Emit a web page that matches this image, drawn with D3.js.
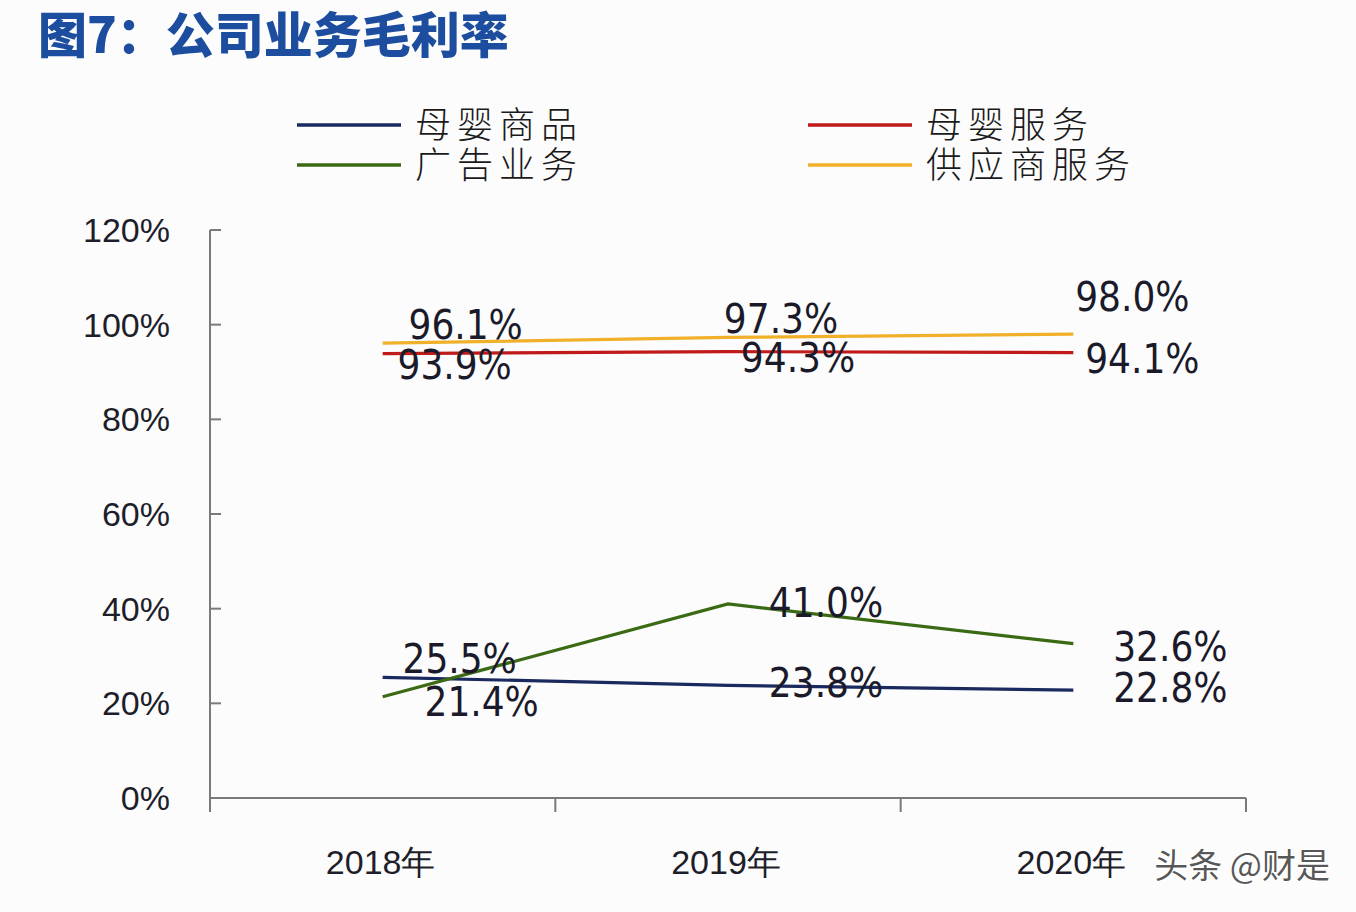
<!DOCTYPE html>
<html><head><meta charset="utf-8">
<script src="https://cdn.jsdelivr.net/npm/d3@7"></script>
<style>
html,body{margin:0;padding:0;background:#fcfcfc;}
svg{display:block;}
</style></head>
<body>
<svg id="c" width="1356" height="912"></svg>
<script>
// ---- data ----
const categories = ["2018年", "2019年", "2020年"];
const seriesNames = ["母婴商品", "母婴服务", "广告业务", "供应商服务"];
const muyingShangpin = [25.5, 23.8, 22.8];
const muyingFuwu = [93.9, 94.3, 94.1];
const guanggao = [21.4, 41.0, 32.6];
const gongyingshang = [96.1, 97.3, 98.0];
const yTicks = [0, 20, 40, 60, 80, 100, 120];
const yTickLabels = ["0%", "20%", "40%", "60%", "80%", "100%", "120%"];
const title = "图7：公司业务毛利率";

// ---- layout / style (not data) ----
const colors = {"母婴商品":"#1b2a5e","母婴服务":"#c01a1a","广告业务":"#3b6a14","供应商服务":"#f0b02a"};
const seriesValues = {"母婴商品":muyingShangpin,"母婴服务":muyingFuwu,"广告业务":guanggao,"供应商服务":gongyingshang};
const labelOffsets = {
  "母婴商品":[[77,-4],[98,12],[97,12]],
  "母婴服务":[[72,25],[70,20],[69,20]],
  "广告业务":[[99,19],[98,13],[97,17]],
  "供应商服务":[[83,-4],[53,-4],[59,-23]]
};

const svg = d3.select("#c");
const x = d3.scaleBand().domain(categories).range([210, 1246]).padding(0);
const y = d3.scaleLinear().domain([0, 120]).range([798, 230]);

// title
svg.append("text").attr("x", 38).attr("y", 53)
  .attr("font-family", "'Noto Sans CJK SC'").attr("font-weight", 900)
  .attr("font-size", 49).attr("fill", "#1c4d9e").text(title);

// legend
const legendPos = {"母婴商品":[297,125],"广告业务":[297,165],"母婴服务":[808,125],"供应商服务":[808,165]};
seriesNames.forEach(n => {
  const [lx, ly] = legendPos[n];
  svg.append("line").attr("x1", lx).attr("x2", lx + 104).attr("y1", ly).attr("y2", ly)
    .attr("stroke", colors[n]).attr("stroke-width", 3.5);
  svg.append("text").attr("x", lx + 118).attr("y", ly + 13)
    .attr("font-family", "'Noto Sans CJK SC'").attr("font-weight", 300)
    .attr("font-size", 36).attr("letter-spacing", 6).attr("fill", "#1a1a1a").text(n);
});

// y axis
const gy = svg.append("g");
gy.append("line").attr("x1", 210).attr("x2", 210).attr("y1", y(120)).attr("y2", y(0))
  .attr("stroke", "#7a7a7a").attr("stroke-width", 2);
yTicks.forEach((t, i) => {
  gy.append("line").attr("x1", 210).attr("x2", 221).attr("y1", y(t)).attr("y2", y(t))
    .attr("stroke", "#7a7a7a").attr("stroke-width", 2);
  gy.append("text").attr("x", 170).attr("y", y(t) + 12).attr("text-anchor", "end")
    .attr("font-family", "'Liberation Sans', Arial").attr("font-size", 34)
    .attr("fill", "#1e1e2a").text(yTickLabels[i]);
});

// x axis
const gx = svg.append("g");
gx.append("line").attr("x1", 210).attr("x2", 1246).attr("y1", y(0)).attr("y2", y(0))
  .attr("stroke", "#7a7a7a").attr("stroke-width", 2);
const bounds = categories.map(c => x(c)).concat([x(categories[categories.length-1]) + x.bandwidth()]);
bounds.forEach(b => {
  gx.append("line").attr("x1", b).attr("x2", b).attr("y1", y(0)).attr("y2", y(0) + 14)
    .attr("stroke", "#7a7a7a").attr("stroke-width", 2);
});
categories.forEach(c => {
  gx.append("text").attr("x", x(c) + x.bandwidth()/2 - 2).attr("y", 874).attr("text-anchor", "middle")
    .attr("font-family", "'Liberation Sans', Arial").attr("font-size", 34)
    .attr("fill", "#1e1e2a").text(c);
});

// lines
const line = d3.line().x((d, i) => x(categories[i]) + x.bandwidth()/2).y(d => y(d));
const drawOrder = ["母婴商品", "广告业务", "母婴服务", "供应商服务"];
drawOrder.forEach(n => {
  svg.append("path").datum(seriesValues[n]).attr("d", line)
    .attr("fill", "none").attr("stroke", colors[n]).attr("stroke-width", 3.2);
});

// data labels
drawOrder.forEach(n => {
  seriesValues[n].forEach((v, i) => {
    const px = x(categories[i]) + x.bandwidth()/2, py = y(v);
    const [dx, dy] = labelOffsets[n][i];
    svg.append("text").attr("x", px + dx).attr("y", py + dy).attr("text-anchor", "middle")
      .attr("font-family", "'DejaVu Sans Condensed', 'Liberation Sans Narrow', sans-serif")
      .attr("font-size", 40).attr("fill", "#1a1a2a").text(v.toFixed(1) + "%");
  });
});

// watermark
svg.append("text").attr("x", 1330).attr("y", 878).attr("text-anchor", "end")
  .attr("font-family", "'Noto Sans CJK SC'").attr("font-size", 34)
  .attr("fill", "#3a3a3a").attr("fill-opacity", 0.85)
  .attr("stroke", "#ffffff").attr("stroke-width", 3).attr("paint-order", "stroke")
  .text("头条 @财是");
</script>
</body></html>
